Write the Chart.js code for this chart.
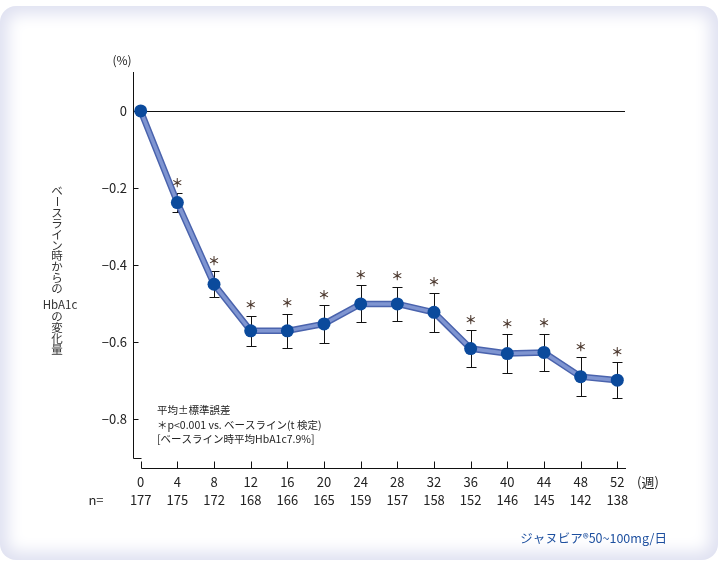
<!DOCTYPE html>
<html>
<head>
<meta charset="utf-8">
<script src="https://cdn.jsdelivr.net/npm/chart.js@4.4.1/dist/chart.umd.min.js"></script>
<style>
html, body { margin: 0; padding: 0; background: #fff; }
#frame { position: absolute; left: 0; top: 6px; width: 718px; height: 554px; border-radius: 16px; background: #fff; box-shadow: inset 0 0 16px 8px #dfe1f1; }
#wrap { position: absolute; left: 0; top: 0; width: 720px; height: 567px; }
</style>
</head>
<body>
<div id="frame"></div>
<div id="wrap"><canvas id="chartCanvas" width="720" height="567"></canvas></div>
<script>
// weeks after start, and patients at each visit
const weeks = [0, 4, 8, 12, 16, 20, 24, 28, 32, 36, 40, 44, 48, 52];
const nPatients = [177, 175, 172, 168, 166, 165, 159, 157, 158, 152, 146, 145, 142, 138];
// HbA1c change from baseline (%), mean and standard error
const meanChange = [0, -0.238, -0.450, -0.571, -0.571, -0.553, -0.501, -0.501, -0.523, -0.617, -0.630, -0.627, -0.690, -0.699];
const stdError = [0, 0.025, 0.034, 0.039, 0.044, 0.049, 0.048, 0.045, 0.051, 0.048, 0.050, 0.049, 0.050, 0.046];
const significant = [false, true, true, true, true, true, true, true, true, true, true, true, true, true];
const yTicks = [0, -0.2, -0.4, -0.6, -0.8];

const yTitleTop = ['ベ', 'ー', 'ス', 'ラ', 'イ', 'ン', '時', 'か', 'ら', 'の'];
const yTitleBottom = ['の', '変', '化', '量'];
const noteLines = ['平均±標準誤差', '＊p<0.001 vs. ベースライン(t 検定)', '[ベースライン時平均HbA1c7.9%]'];

const FONT = "'Noto Sans CJK JP', 'Noto Sans', sans-serif";
Chart.defaults.font.family = FONT;
Chart.defaults.color = '#222';

const points = weeks.map((w, i) => ({ x: w, y: meanChange[i] }));

const decorations = {
    id: 'decorations',
    beforeDatasetsDraw(chart) {
        const ctx = chart.ctx;
        const xs = chart.scales.x, ys = chart.scales.y;
        const area = chart.chartArea;
        ctx.save();
        ctx.strokeStyle = '#111';
        ctx.lineWidth = 1;
        // y axis with small foot
        const yAxisX = area.left + 0.5;
        const yEnd = Math.round(ys.getPixelForValue(-0.9)) + 0.5;
        ctx.beginPath();
        ctx.moveTo(yAxisX, area.top);
        ctx.lineTo(yAxisX, yEnd);
        ctx.lineTo(Math.round(xs.getPixelForValue(0)) + 0.5, yEnd);
        ctx.stroke();
        yTicks.forEach(v => {
            if (v === 0) return;
            const y = Math.round(ys.getPixelForValue(v)) + 0.5;
            ctx.beginPath();
            ctx.moveTo(yAxisX, y);
            ctx.lineTo(yAxisX + 5, y);
            ctx.stroke();
        });
        // zero line
        const y0 = Math.round(ys.getPixelForValue(0)) + 0.5;
        ctx.beginPath();
        ctx.moveTo(yAxisX, y0);
        ctx.lineTo(area.right - 1, y0);
        ctx.stroke();
        // x axis, ticks pointing up
        const xAxisY = area.bottom + 0.5;
        ctx.beginPath();
        ctx.moveTo(Math.round(xs.getPixelForValue(0)) + 0.5, xAxisY);
        ctx.lineTo(area.right, xAxisY);
        ctx.stroke();
        weeks.forEach(w => {
            const x = Math.round(xs.getPixelForValue(w)) + 0.5;
            ctx.beginPath();
            ctx.moveTo(x, xAxisY);
            ctx.lineTo(x, xAxisY - 7);
            ctx.stroke();
        });
        // error bars
        weeks.forEach((w, i) => {
            if (!stdError[i]) return;
            const x = Math.round(xs.getPixelForValue(w)) + 0.5;
            const yt = Math.round(ys.getPixelForValue(meanChange[i] + stdError[i])) + 0.5;
            const yb = Math.round(ys.getPixelForValue(meanChange[i] - stdError[i])) + 0.5;
            ctx.beginPath();
            ctx.moveTo(x, yt); ctx.lineTo(x, yb);
            ctx.moveTo(x - 5, yt); ctx.lineTo(x + 5, yt);
            ctx.moveTo(x - 5, yb); ctx.lineTo(x + 5, yb);
            ctx.stroke();
        });
        ctx.restore();
    },
    afterDatasetsDraw(chart) {
        const ctx = chart.ctx;
        const xs = chart.scales.x, ys = chart.scales.y;
        ctx.save();
        // significance marks
        ctx.fillStyle = '#4d3a30';
        ctx.font = 'bold 12px ' + FONT;
        ctx.textAlign = 'center';
        ctx.textBaseline = 'middle';
        weeks.forEach((w, i) => {
            if (!significant[i]) return;
            const x = xs.getPixelForValue(w);
            const yt = ys.getPixelForValue(meanChange[i] + stdError[i]);
            ctx.fillText('＊', x, yt - 10);
        });

        ctx.fillStyle = '#222';
        ctx.font = '12px ' + FONT;
        ctx.fillText('(%)', 122, 60);
        ctx.font = '13px ' + FONT;
        ctx.fillText('(週)', 648, 482);
        ctx.fillText('n=', 96, 500);

        // vertical y title
        ctx.fillStyle = '#333';
        ctx.font = '11.5px ' + FONT;
        const cx = 57;
        yTitleTop.forEach((c, i) => {
            const y = 190.7 + i * 10.9;
            if (c === 'ー') {
                ctx.save();
                ctx.translate(cx, y);
                ctx.rotate(Math.PI / 2);
                ctx.fillText(c, 0, 0);
                ctx.restore();
            } else {
                ctx.fillText(c, cx, y);
            }
        });
        ctx.fillText('HbA1c', cx + 3, 305);
        yTitleBottom.forEach((c, i) => ctx.fillText(c, cx, 316.5 + i * 10.9));

        // notes
        ctx.fillStyle = '#222';
        ctx.font = '10.5px ' + FONT;
        ctx.textAlign = 'left';
        noteLines.forEach((t, i) => ctx.fillText(t, 157, 410 + i * 14.7));

        // drug label
        ctx.fillStyle = '#1d4f9f';
        ctx.font = '12.5px ' + FONT;
        ctx.textAlign = 'right';
        ctx.fillText('ジャヌビア®50~100mg/日', 667, 538);
        ctx.restore();
    }
};

const ctx = document.getElementById('chartCanvas');
window.myChart = new Chart(ctx, {
    type: 'line',
    data: {
        datasets: [{
            data: points,
            borderColor: '#7f95d1',
            borderWidth: 3.5,
            pointRadius: 6.5,
            pointBackgroundColor: '#0b4a9c',
            pointBorderWidth: 0,
            tension: 0
        }, {
            data: points,
            borderColor: '#4a63ad',
            borderWidth: 6.5,
            pointRadius: 0,
            tension: 0
        }]
    },
    options: {
        responsive: false,
        animation: false,
        events: [],
        layout: { padding: { left: 0, top: 72, right: 94, bottom: 0 } },
        plugins: { legend: { display: false }, tooltip: { enabled: false } },
        scales: {
            x: {
                type: 'linear',
                min: -0.84,
                max: 52.95,
                afterBuildTicks: s => { s.ticks = weeks.map(v => ({ value: v })); },
                afterFit: s => { s.height = 99; },
                grid: { display: false, drawTicks: false },
                border: { display: false },
                ticks: {
                    autoSkip: false,
                    maxRotation: 0,
                    padding: 5,
                    font: { size: 13, lineHeight: 1.4 },
                    color: '#222',
                    callback: v => [String(v), String(nPatients[weeks.indexOf(v)])]
                }
            },
            y: {
                min: -0.927,
                max: 0.101,
                afterBuildTicks: s => { s.ticks = yTicks.map(v => ({ value: v })); },
                afterFit: s => { s.width = 133; },
                grid: { display: false, drawTicks: false },
                border: { display: false },
                ticks: {
                    padding: 6,
                    font: { size: 13 },
                    color: '#222',
                    callback: v => v === 0 ? '0' : '\u2212' + Math.abs(v).toFixed(1)
                }
            }
        }
    },
    plugins: [decorations]
});
</script>
</body>
</html>
